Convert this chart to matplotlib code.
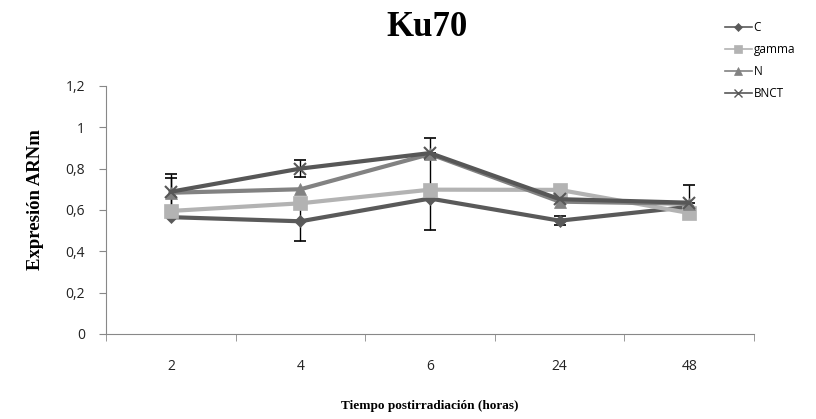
import numpy as np
import matplotlib
matplotlib.use("Agg")
import matplotlib.pyplot as plt
from matplotlib.lines import Line2D
from matplotlib.ticker import FixedLocator, FuncFormatter

# datos
horas = ["2", "4", "6", "24", "48"]
series = ["C", "gamma", "N", "BNCT"]
val_c = [0.565, 0.545, 0.655, 0.548, 0.615]
val_gamma = [0.595, 0.632, 0.698, 0.697, 0.585]
val_n = [0.683, 0.700, 0.870, 0.640, 0.630]
val_bnct = [0.688, 0.800, 0.875, 0.652, 0.635]

# barras de error (abajo, arriba)
err_c_lo = [0.0, 0.095, 0.15, 0.022, 0.0]
err_c_hi = [0.0, 0.08, 0.19, 0.022, 0.0]
err_n_lo = [0.07, 0.0, 0.0, 0.0, 0.0]
err_n_hi = [0.07, 0.0, 0.0, 0.0, 0.0]
err_bnct_lo = [0.085, 0.04, 0.0, 0.0, 0.0]
err_bnct_hi = [0.085, 0.04, 0.075, 0.0, 0.085]

colores = ["#5a5a5a", "#b3b3b3", "#828282", "#575757"]
marcas = ["D", "s", "^", "x"]
tamanos = [6, 10, 8, 9]


def main():
    fig = plt.figure(figsize=(8.16, 4.19), dpi=100)
    ax = fig.add_axes([0.130, 0.203, 0.794, 0.592])
    x = np.arange(len(horas))

    valores = [val_c, val_gamma, val_n, val_bnct]
    errores = [(err_c_lo, err_c_hi), None, (err_n_lo, err_n_hi), (err_bnct_lo, err_bnct_hi)]

    for vals, err in zip(valores, errores):
        if err is None:
            continue
        lo, hi = err
        for i in range(len(x)):
            if lo[i] == 0 and hi[i] == 0:
                continue
            ax.errorbar(x[i], vals[i], yerr=[[lo[i]], [hi[i]]], fmt="none",
                        ecolor="black", elinewidth=1.0, capsize=4, capthick=1.2, zorder=1)

    for nombre, vals, col, m, ms in zip(series, valores, colores, marcas, tamanos):
        ax.plot(x, vals, color=col, linewidth=3.0, marker=m, markersize=ms,
                markeredgewidth=1.5 if m == "x" else 0.5, markeredgecolor=col,
                zorder=2, label=nombre)

    ax.set_xlim(-0.5, len(horas) - 0.5)
    ax.set_ylim(0, 1.2)
    ax.set_xticks(x)
    ax.set_xticklabels(horas, fontsize=10, family="Open Sans", color="#222222")
    ax.xaxis.set_minor_locator(FixedLocator(np.arange(-0.5, len(horas), 1.0)))
    ax.tick_params(axis="x", which="major", length=0, pad=18)
    ax.tick_params(axis="x", which="minor", length=5, color="#888888")
    ax.set_yticks(np.arange(0, 1.21, 0.2))
    ax.yaxis.set_major_formatter(FuncFormatter(lambda v, p: ("%g" % round(v, 1)).replace(".", ",")))
    ax.tick_params(axis="y", length=5, color="#888888", labelsize=10, pad=10)
    for lab in ax.get_yticklabels():
        lab.set_family("Open Sans")
        lab.set_color("#222222")

    for s in ["top", "right"]:
        ax.spines[s].set_visible(False)
    for s in ["left", "bottom"]:
        ax.spines[s].set_color("#888888")

    fig.text(0.523, 0.935, "Ku70", ha="center", va="center", fontsize=25,
             fontweight="bold", family="Liberation Serif")
    fig.text(0.043, 0.523, "Expresión ARNm", ha="center", va="center", rotation=90,
             fontsize=13.5, fontweight="bold", family="Liberation Serif")
    fig.text(0.527, 0.03, "Tiempo postirradiación (horas)", ha="center", va="center",
             fontsize=9.5, fontweight="bold", family="Liberation Serif")

    handles = [Line2D([0], [0], color=c, lw=1.2, marker=m, markersize=min(ms, 8) * 0.7,
                      markeredgecolor=c, markeredgewidth=1.0 if m == "x" else 0.5)
               for c, m, ms in zip(colores, marcas, tamanos)]
    leg = fig.legend(handles, series, loc="upper left", bbox_to_anchor=(0.875, 0.975),
                     frameon=False, fontsize=8.5, handlelength=2.3, handletextpad=0.15,
                     labelspacing=0.75)
    for t in leg.get_texts():
        t.set_family("Open Sans")

    fig.savefig("out.png", dpi=100)


if __name__ == "__main__":
    main()
